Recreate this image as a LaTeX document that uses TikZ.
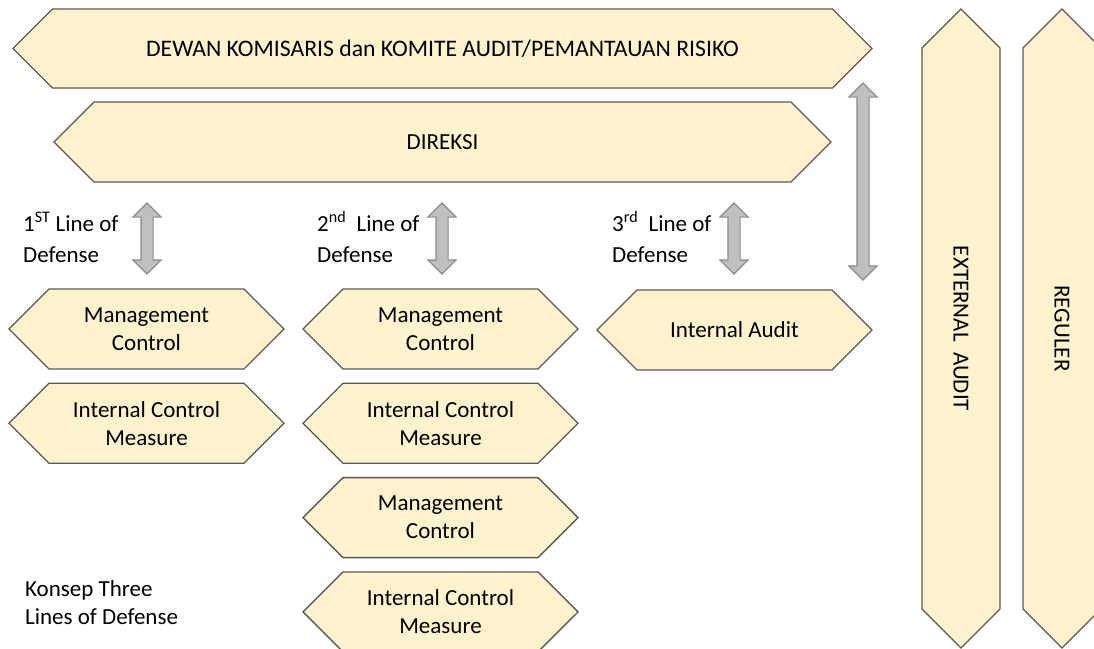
\documentclass[tikz,border=0pt]{standalone}
\usepackage{fontspec}
\setmainfont{Carlito}
\usepackage{xcolor}
\usetikzlibrary{positioning,shapes.symbols,shapes.arrows}

\definecolor{boxfill}{HTML}{FFF2CC}
\definecolor{boxline}{HTML}{595959}
\definecolor{arrfill}{HTML}{BFBFBF}
\definecolor{arrline}{HTML}{8C8C8C}

\tikzset{
  hexa/.style={signal, signal to=east and west, signal pointer angle=90,
    draw=boxline, fill=boxfill, line width=1.3pt, align=center, inner sep=0pt,
    minimum width=275pt, minimum height=80pt},
  dblarr/.style={double arrow, rotate=90, draw=arrline, fill=arrfill,
    line width=1.2pt, inner sep=5.5pt, minimum width=27pt,
    double arrow head extend=8pt},
  lbl/.style={align=left, inner sep=0pt}
}

\begin{document}
\begin{tikzpicture}[x=1pt, y=-1pt, node distance=13pt and 13pt,
  every node/.style={font=\fontsize{23}{28}\selectfont}]
  \clip (0,0) rectangle (1094,648);
  \fill[white] (0,0) rectangle (1094,648);

  % Banner atas
  \node[hexa, minimum width=859pt, minimum height=79pt, font=\fontsize{23.7}{28}\selectfont] (dewan) at (442.5,48.5)
    {DEWAN KOMISARIS dan KOMITE AUDIT/PEMANTAUAN RISIKO};
  \node[hexa, minimum width=777pt] (direksi) at (442.5,142) {DIREKSI};

  % Banner tegak
  \node[hexa, rotate=-90, minimum width=639pt, minimum height=78pt] (ext) at (961,328.5)
    {EXTERNAL\ \ AUDIT};
  \node[hexa, rotate=-90, minimum width=639pt, minimum height=78pt] (reg) at (1062,328.5)
    {REGULER};

  % Lini pertahanan
  \node[lbl, anchor=west, font=\fontsize{23}{31}\selectfont] (l1) at (23,237) {1\textsuperscript{ST} Line of\\Defense};
  \node[lbl, anchor=west, font=\fontsize{23}{31}\selectfont] (l2) at (317,237) {2\textsuperscript{nd}\ \ Line of\\Defense};
  \node[lbl, anchor=west, font=\fontsize{23}{31}\selectfont] (l3) at (612,237) {3\textsuperscript{rd}\ \ Line of\\Defense};

  % Panah
  \node[dblarr, minimum height=71pt] (a1) at (147,238.5) {};
  \node[dblarr, minimum height=71pt] (a2) at (442,238.5) {};
  \node[dblarr, minimum height=71pt] (a3) at (734,238.5) {};
  \node[dblarr, minimum height=197pt] (a4) at (863,181.5) {};

  % Kolom 1
  \node[hexa] (mc1) at (146.5,329) {Management\\Control};
  \node[hexa, below=of mc1] (ic1) {Internal Control\\Measure};

  % Kolom 2
  \node[hexa] (mc2) at (440.5,329) {Management\\Control};
  \node[hexa, below=of mc2] (ic2) {Internal Control\\Measure};
  \node[hexa, below=of ic2] (mc3) {Management\\Control};
  \node[hexa, below=of mc3] (ic3) {Internal Control\\Measure};

  % Kolom 3
  \node[hexa] (ia) at (734.5,330) {Internal Audit};

  \node[lbl, anchor=west] (konsep) at (25,603) {Konsep Three\\Lines of Defense};
\end{tikzpicture}
\end{document}
